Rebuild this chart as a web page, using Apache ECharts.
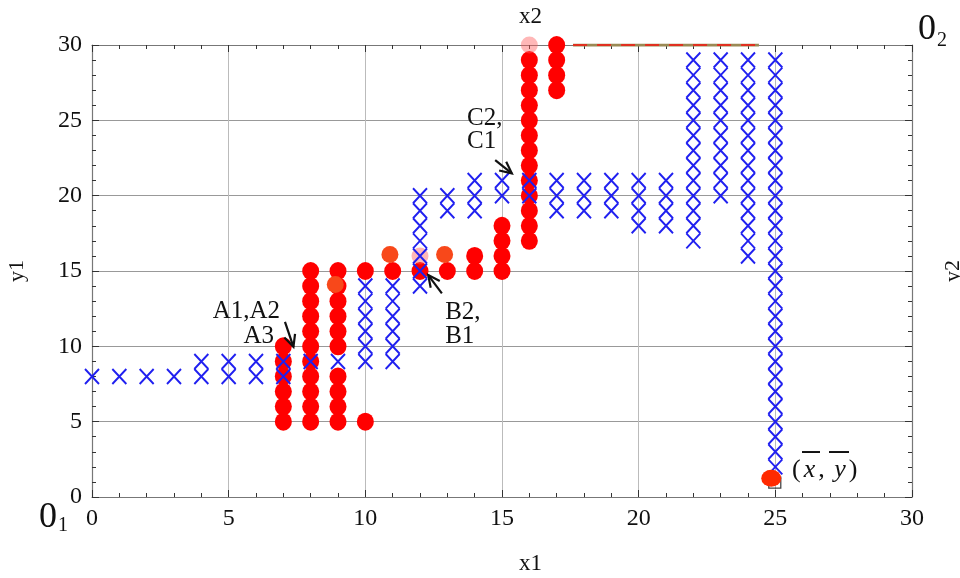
<!DOCTYPE html>
<html>
<head>
<meta charset="utf-8">
<script src="https://cdn.jsdelivr.net/npm/echarts@6/dist/echarts.min.js"></script>
<style>
  html, body { margin: 0; padding: 0; background: #fff; }
  #chart { width: 960px; height: 578px; }
</style>
</head>
<body>
<div id="chart"></div>
<script>
const FONT = "'Liberation Serif', 'Times New Roman', serif"

// red dots, one column per x1 value: [x1, [y1 values]]
const redCols = [
  [7, [5, 6, 7, 8, 9, 10]],
  [8, [5, 6, 7, 8, 9, 10, 11, 12, 13, 14, 15]],
  [9, [5, 6, 7, 8, 10, 11, 12, 13, 14, 15]],
  [10, [5, 15]],
  [11, [15]],
  [12, [15]],
  [13, [15]],
  [14, [15, 16]],
  [15, [15, 16, 17, 18]],
  [16, [17, 18, 19, 20, 21, 22, 23, 24, 25, 26, 27, 28, 29]],
  [17, [27, 28, 29, 30]],
]

// blue crosses, same layout
const blueCols = [
  [0, [8]], [1, [8]], [2, [8]], [3, [8]],
  [4, [8, 9]], [5, [8, 9]], [6, [8, 9]], [7, [8, 9]],
  [8, [9]], [9, [9]],
  [10, [9, 10, 11, 12, 13, 14]],
  [11, [9, 10, 11, 12, 13, 14]],
  [12, [14, 15, 16, 17, 18, 19, 20]],
  [13, [19, 20]],
  [14, [19, 20, 21]],
  [15, [20, 21]],
  [16, [20, 21]],
  [17, [19, 20, 21]],
  [18, [19, 20, 21]],
  [19, [19, 20, 21]],
  [20, [18, 19, 20, 21]],
  [21, [18, 19, 20, 21]],
  [22, [17, 18, 19, 20, 21, 22, 23, 24, 25, 26, 27, 28, 29]],
  [23, [20, 21, 22, 23, 24, 25, 26, 27, 28, 29]],
  [24, [16, 17, 18, 19, 20, 21, 22, 23, 24, 25, 26, 27, 28, 29]],
  [25, [2, 3, 4, 5, 6, 7, 8, 9, 10, 11, 12, 13, 14, 15, 16, 17, 18, 19, 20, 21, 22, 23, 24, 25, 26, 27, 28, 29]],
]

const orangeDots = [[8.9, 14.1], [10.9, 16.1], [12.9, 16.1]]
const hatchDots = [[12, 16], [16, 30]]
const meanDot = [[24.85, 1.25]]
const meanBox = [[24.98, 0.95]]
const topEdge = [[17.6, 30], [24.4, 30]]

// arrows: [x from, y from, x to, y to]
const arrows = [
  [7.06, 11.63, 7.37, 9.97],
  [12.8, 13.52, 12.3, 14.73],
  [14.75, 22.36, 15.36, 21.48],
]

// annotation text: [x, y, text, align]
const notes = [
  [6.88, 12.3, 'A1,A2', 'right'],
  [6.66, 10.64, 'A3', 'right'],
  [12.92, 12.28, 'B2,', 'left'],
  [12.92, 10.68, 'B1', 'left'],
  [13.72, 25.15, 'C2,', 'left'],
  [13.72, 23.62, 'C1', 'left'],
]
const meanLabel = [[25.61, 1.79]]

const xTicks = [0, 5, 10, 15, 20, 25, 30]

const expand = cols => cols.flatMap(([x, ys]) => ys.map(y => [x, y]))

const chart = echarts.init(document.getElementById('chart'))

function axisBase(position, showLabel, splitColor) {
  return {
    type: 'value',
    position,
    min: xTicks[0],
    max: xTicks[xTicks.length - 1],
    interval: 5,
    axisLine: { show: true, onZero: false, lineStyle: { color: '#777', width: 1.2 } },
    axisTick: { show: true, inside: true, length: 7, lineStyle: { color: '#333' } },
    minorTick: { show: true, splitNumber: 5, length: 4, lineStyle: { color: '#333' } },
    axisLabel: {
      show: showLabel, fontFamily: FONT, fontSize: 24, color: '#111', margin: 10,
    },
    splitLine: { show: !!splitColor, lineStyle: { color: splitColor || '#aaa', width: 1 } },
  }
}

const crossSymbol = 'path://M0,0L10,10M10,0L0,10'

chart.setOption({
  animation: false,
  backgroundColor: '#fff',
  grid: { left: 92, right: 48, top: 45, bottom: 81, outerBoundsMode: 'none', containLabel: false },
  xAxis: [
    axisBase('bottom', true, '#bbb'),
    axisBase('top', false, null),
  ],
  yAxis: [
    Object.assign(axisBase('left', true, '#999'), {
      name: 'y1', nameLocation: 'middle', nameGap: 64, nameRotate: 90,
      nameTextStyle: { fontFamily: FONT, fontSize: 22, color: '#111' },
    }),
    Object.assign(axisBase('right', false, null), {
      name: 'y2', nameLocation: 'middle', nameGap: 30, nameRotate: 90,
      nameTextStyle: { fontFamily: FONT, fontSize: 22, color: '#111' },
    }),
  ],
  graphic: [
    { type: 'text', left: 519, top: 5, style: { text: 'x2', font: `23px ${FONT}`, fill: '#111' } },
    { type: 'text', left: 519, top: 552, style: { text: 'x1', font: `23px ${FONT}`, fill: '#111' } },
    {
      type: 'text', left: 39, top: 500,
      style: {
        text: '{a|0}{b|1}',
        rich: {
          a: { fontFamily: FONT, fontSize: 36, fill: '#111', verticalAlign: 'bottom' },
          b: { fontFamily: FONT, fontSize: 20, fill: '#111', padding: [22, 0, 0, 1] },
        },
      },
    },
    {
      type: 'text', left: 918, top: 12,
      style: {
        text: '{a|0}{b|2}',
        rich: {
          a: { fontFamily: FONT, fontSize: 36, fill: '#111' },
          b: { fontFamily: FONT, fontSize: 20, fill: '#111', padding: [22, 0, 0, 1] },
        },
      },
    },
  ],
  series: [
    {
      type: 'line',
      data: topEdge,
      symbol: 'none',
      lineStyle: { color: '#9a8a55', width: 3 },
      z: 3,
    },
    {
      type: 'line',
      data: topEdge,
      symbol: 'none',
      lineStyle: { color: '#e03020', width: 2, type: [14, 10] },
      z: 3,
    },
    {
      type: 'scatter',
      data: expand(redCols),
      symbol: 'circle',
      symbolSize: [17, 18],
      itemStyle: { color: '#ff0000', opacity: 1 },
      z: 4,
    },
    {
      type: 'scatter',
      data: orangeDots,
      symbol: 'circle',
      symbolSize: 17,
      itemStyle: { color: '#f8481a', opacity: 1 },
      z: 5,
    },
    {
      type: 'scatter',
      data: hatchDots,
      symbol: 'circle',
      symbolSize: 17,
      itemStyle: { color: 'rgba(255,90,90,0.55)' },
      z: 5,
    },
    {
      type: 'scatter',
      data: expand(blueCols),
      symbol: crossSymbol,
      symbolSize: [14, 15],
      itemStyle: { color: 'none', borderColor: '#2020f0', borderWidth: 2, opacity: 1 },
      z: 6,
    },
    {
      type: 'scatter',
      data: meanBox,
      symbol: 'rect',
      symbolSize: [12, 11],
      itemStyle: { color: 'rgba(255,255,255,0)', borderColor: '#111', borderWidth: 1.2 },
      z: 6,
    },
    {
      type: 'scatter',
      data: meanDot,
      symbol: 'circle',
      symbolSize: [20, 17],
      itemStyle: { color: '#ff2a00', opacity: 1 },
      z: 7,
    },
    {
      type: 'custom',
      data: arrows,
      clip: false,
      z: 8,
      renderItem(params, api) {
        const s = api.coord([api.value(0), api.value(1)])
        const e = api.coord([api.value(2), api.value(3)])
        const ang = Math.atan2(e[1] - s[1], e[0] - s[0])
        const L = 13, spread = 0.45
        const h1 = [e[0] - L * Math.cos(ang - spread), e[1] - L * Math.sin(ang - spread)]
        const h2 = [e[0] - L * Math.cos(ang + spread), e[1] - L * Math.sin(ang + spread)]
        const st = { stroke: '#111', lineWidth: 2.2, fill: null }
        return {
          type: 'group',
          children: [
            { type: 'polyline', shape: { points: [s, e] }, style: st },
            { type: 'polyline', shape: { points: [h1, e, h2] }, style: st },
          ],
        }
      },
    },
    {
      type: 'custom',
      data: notes,
      clip: false,
      z: 8,
      renderItem(params, api) {
        const p = api.coord([api.value(0), api.value(1)])
        const item = notes[params.dataIndex]
        return {
          type: 'text',
          x: p[0], y: p[1],
          style: {
            text: item[2], fontFamily: FONT, fontSize: 25, fill: '#111',
            align: item[3], verticalAlign: 'middle',
          },
        }
      },
    },
    {
      type: 'custom',
      data: meanLabel,
      clip: false,
      z: 8,
      renderItem(params, api) {
        const p = api.coord([api.value(0), api.value(1)])
        const ln = { stroke: '#111', lineWidth: 2 }
        return {
          type: 'group',
          children: [
            {
              type: 'text', x: p[0], y: p[1],
              style: {
                text: '{p|(}{v|x}{p|,}{v| y}{p|)}',
                verticalAlign: 'middle', align: 'left',
                rich: {
                  p: { fontFamily: FONT, fontSize: 26, fill: '#111' },
                  v: { fontFamily: FONT, fontSize: 26, fontStyle: 'italic', fill: '#111', padding: [0, 3, 0, 3] },
                },
              },
            },
            { type: 'line', shape: { x1: p[0] + 10, y1: p[1] - 18, x2: p[0] + 28, y2: p[1] - 18 }, style: ln },
            { type: 'line', shape: { x1: p[0] + 37, y1: p[1] - 18, x2: p[0] + 57, y2: p[1] - 18 }, style: ln },
          ],
        }
      },
    },
  ],
})
</script>
</body>
</html>
